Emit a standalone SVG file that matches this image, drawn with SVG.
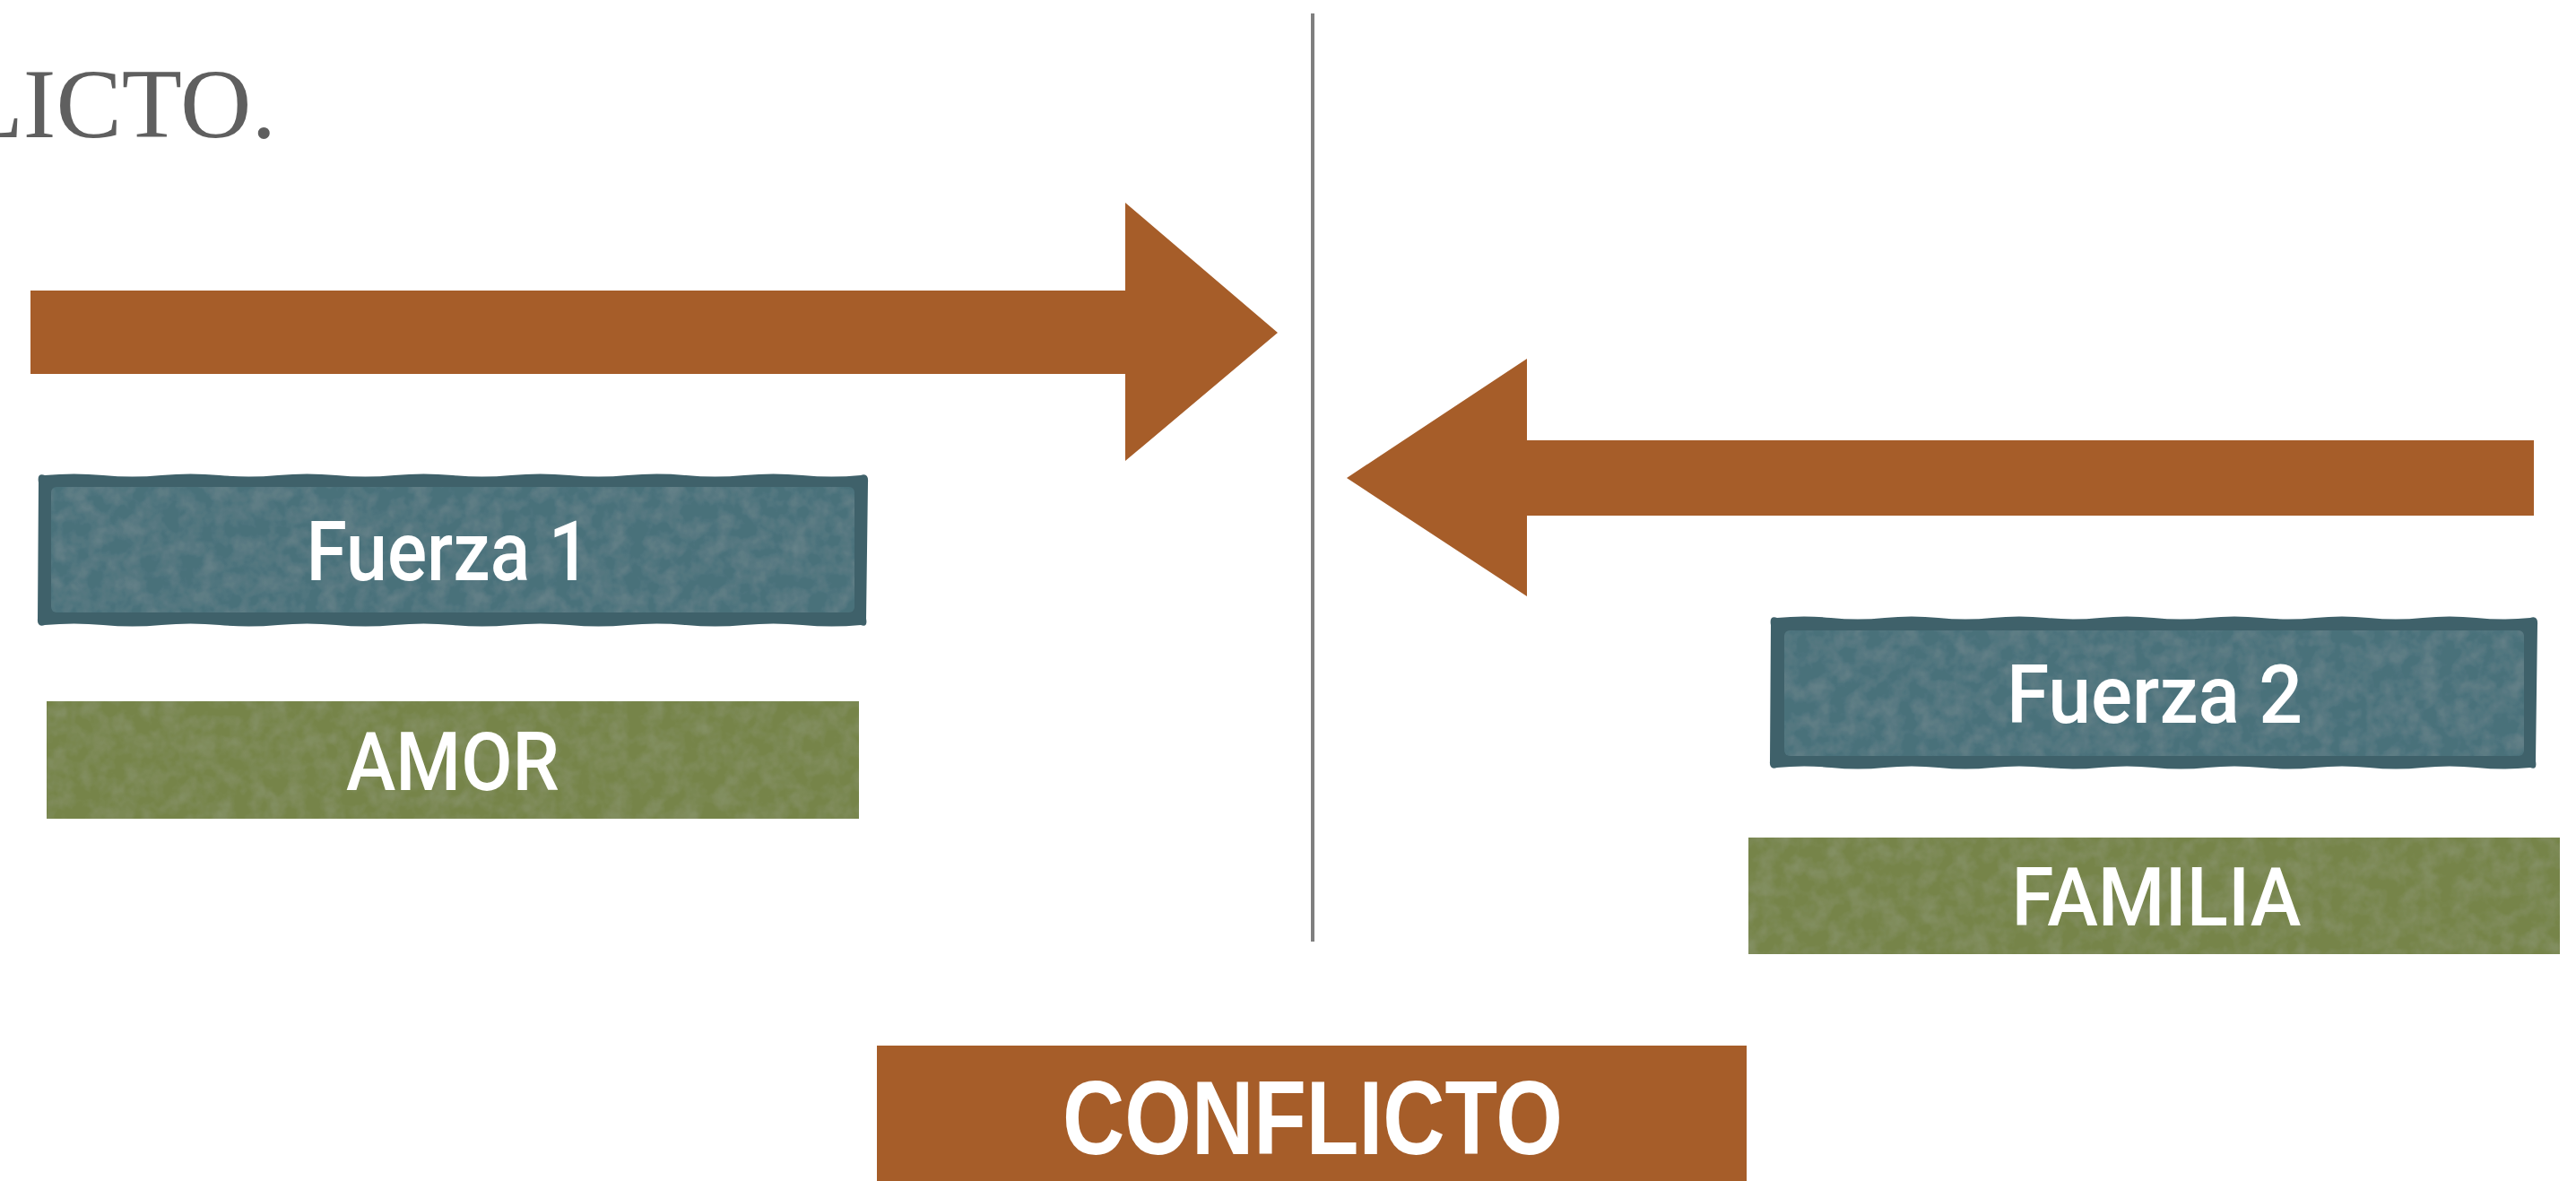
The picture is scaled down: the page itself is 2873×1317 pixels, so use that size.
<svg xmlns="http://www.w3.org/2000/svg" width="2873" height="1317" viewBox="0 0 2873 1317">
<defs>
<filter id="paper" x="0" y="0" width="100%" height="100%">
<feTurbulence type="fractalNoise" baseFrequency="0.05" numOctaves="3" seed="4" result="n"/>
<feColorMatrix in="n" type="matrix" values="0 0 0 0 1  0 0 0 0 1  0 0 0 0 1  0.12 0 0 0 -0.04" result="w"/>
<feComposite in="w" in2="SourceGraphic" operator="in" result="t"/>
<feMerge><feMergeNode in="SourceGraphic"/><feMergeNode in="t"/></feMerge>
</filter>
<style>
.arrow{fill:#a65d29}
.frame{fill:#3f616a}
.inner{fill:#4a717a}
.olive{fill:#76844a}
.lbl{fill:#ffffff;font-family:Roboto,"Liberation Sans",sans-serif;font-weight:500;text-anchor:middle}
.big{fill:#ffffff;font-family:"Liberation Sans",Arial,sans-serif;font-weight:700;text-anchor:middle}
</style>
</defs>
<rect width="2873" height="1317" fill="#ffffff"/>
<text x="308" y="153" font-family="Liberation Serif, serif" font-size="110" fill="#5f5f5f" text-anchor="end">LICTO.</text>
<g id="divider"><line x1="1464" y1="15" x2="1464" y2="1050" stroke="#7f7f7f" stroke-width="4"/></g>
<g id="connectors">
<polygon class="arrow" points="34,324 1255,324 1255,226 1425,371 1255,514 1255,417 34,417"/>
<polygon class="arrow" points="2826,491 1703,491 1703,400 1502,533 1703,665 1703,575 2826,575"/>
</g>
<g id="fuerza1">
<path class="frame" d="M50 530 Q82.5 527 115 530 T180 530 T245 530 T310 530 T375 530 T440 530 T505 530 T570 530 T635 530 T700 530 T765 530 T830 530 T895 530 T960 530 Q969 527 968 538 L966 690 Q968 700 960 697 Q927.5 700 895 697 T830 697 T765 697 T700 697 T635 697 T570 697 T505 697 T440 697 T375 697 T310 697 T245 697 T180 697 T115 697 T50 697 Q41 700 42 690 L43 538 Q41 527 50 530 Z"/>
<rect class="inner" x="57" y="543" width="896" height="140" rx="6" filter="url(#paper)"/>
<text class="lbl" x="500" y="647" font-size="92" textLength="317" lengthAdjust="spacingAndGlyphs">Fuerza 1</text>
</g>
<g id="amor">
<rect class="olive" x="52" y="782" width="906" height="131" filter="url(#paper)"/>
<text class="lbl" x="505" y="881" font-size="90" textLength="238" lengthAdjust="spacingAndGlyphs">AMOR</text>
</g>
<g id="fuerza2">
<path class="frame" d="M1982 689 Q2012 686 2042 689 T2102 689 T2162 689 T2222 689 T2282 689 T2342 689 T2402 689 T2462 689 T2522 689 T2582 689 T2642 689 T2702 689 T2762 689 T2822 689 Q2831 686 2830 697 L2828 849 Q2830 859 2822 856 Q2792 859 2762 856 T2702 856 T2642 856 T2582 856 T2522 856 T2462 856 T2402 856 T2342 856 T2282 856 T2222 856 T2162 856 T2102 856 T2042 856 T1982 856 Q1973 859 1974 849 L1975 697 Q1973 686 1982 689 Z"/>
<rect class="inner" x="1990" y="703" width="825" height="140" rx="6" filter="url(#paper)"/>
<text class="lbl" x="2403" y="806" font-size="90" textLength="330" lengthAdjust="spacingAndGlyphs">Fuerza 2</text>
</g>
<g id="familia">
<rect class="olive" x="1950" y="934" width="905" height="130" filter="url(#paper)"/>
<text class="lbl" x="2405" y="1032" font-size="90" textLength="323" lengthAdjust="spacingAndGlyphs">FAMILIA</text>
</g>
<g id="conflicto">
<rect x="978" y="1166" width="970" height="151" fill="#a65d29"/>
<text class="big" x="1464" y="1287" font-size="116" textLength="558" lengthAdjust="spacingAndGlyphs">CONFLICTO</text>
</g>
</svg>
